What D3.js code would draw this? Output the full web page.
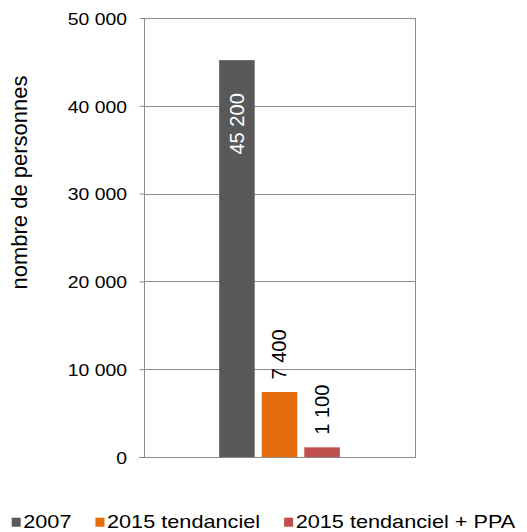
<!DOCTYPE html>
<html>
<head>
<meta charset="utf-8">
<script src="https://cdn.jsdelivr.net/npm/d3@7"></script>
<style>
  html, body { margin: 0; padding: 0; background: #fff; }
  svg { display: block; font-family: "Liberation Sans", Arial, sans-serif; }
</style>
</head>
<body>
<svg id="chart" width="527" height="532"></svg>
<script>
// Number of people, 2007 vs. 2015 projections
const categories = [""];
const seriesNames = ["2007", "2015 tendanciel", "2015 tendanciel + PPA"];
const seriesValues = [45200, 7400, 1100];
const seriesColors = ["#595959", "#E46C0A", "#C0504D"];
const yTicks = [0, 10000, 20000, 30000, 40000, 50000];
const yTitle = "nombre de personnes";

const W = 527, H = 532;
const plot = { left: 144, right: 415, top: 18, bottom: 457 };
const gridColor = "#8C8C8C";

// French thousands grouping: "45 200"
const fmt = v => d3.format(",")(v).replace(/,/g, " ");

const svg = d3.select("#chart");

const y = d3.scaleLinear().domain([0, 50000]).range([plot.bottom, plot.top]);
const x0 = d3.scaleBand().domain(categories).range([plot.left, plot.right])
  .paddingInner(0.3837).paddingOuter(0.3837);
const x1 = d3.scaleBand().domain(seriesNames).range([0, x0.bandwidth()])
  .paddingInner(0.165).paddingOuter(0);

// gridlines
svg.append("g").selectAll("line").data(yTicks.filter(t => t > 0)).join("line")
  .attr("x1", plot.left).attr("x2", plot.right)
  .attr("y1", d => Math.round(y(d)) + 0.5).attr("y2", d => Math.round(y(d)) + 0.5)
  .attr("stroke", gridColor).attr("stroke-width", 1);

// right border of plot
svg.append("line")
  .attr("x1", plot.right + 0.5).attr("x2", plot.right + 0.5)
  .attr("y1", plot.top).attr("y2", plot.bottom)
  .attr("stroke", gridColor);

// bars
const data = seriesNames.map((s, i) => ({ series: s, value: seriesValues[i], color: seriesColors[i] }));
const gBars = svg.append("g").attr("transform", `translate(${x0(categories[0])},0)`);
gBars.selectAll("rect").data(data).join("rect")
  .attr("x", d => x1(d.series))
  .attr("width", x1.bandwidth())
  .attr("y", d => y(d.value))
  .attr("height", d => y(0) - y(d.value))
  .attr("fill", d => d.color);

// value labels, rotated
const labelFont = 19.5, labelStretch = 1.03;
gBars.selectAll("text.val").data(data).join("text")
  .attr("class", "val")
  .attr("font-size", labelFont)
  .attr("fill", (d, i) => i === 0 ? "#FFFFFF" : "#000000")
  .attr("text-anchor", (d, i) => i === 0 ? "end" : "start")
  .attr("transform", (d, i) => {
    const cx = x1(d.series) + x1.bandwidth() / 2 + 6.8;
    const yy = i === 0 ? y(d.value) + 33 : y(d.value) - 12.5;
    return `translate(${cx},${yy}) rotate(-90) scale(${labelStretch},1)`;
  })
  .text(d => fmt(d.value));

// y axis
const yAxis = d3.axisLeft(y).tickValues(yTicks).tickSize(5).tickPadding(12)
  .tickFormat(fmt);
const gy = svg.append("g").attr("transform", `translate(${plot.left + 0.5},0)`).call(yAxis);
gy.select(".domain").attr("stroke", gridColor).attr("d", `M0,${plot.top}V${plot.bottom}`);
gy.selectAll(".tick line").attr("stroke", gridColor);
gy.selectAll(".tick text")
  .attr("font-family", "Liberation Sans, Arial, sans-serif")
  .attr("font-size", 17).attr("fill", "#000")
  .attr("dy", null).attr("x", null)
  .attr("transform", `translate(-17.5,6.2) scale(1.14,1)`);

// x axis baseline (extends to the tick length on the left)
svg.append("line")
  .attr("x1", plot.left - 5).attr("x2", plot.right + 1)
  .attr("y1", plot.bottom + 0.5).attr("y2", plot.bottom + 0.5)
  .attr("stroke", gridColor);

// y axis title
svg.append("text")
  .attr("font-size", 22)
  .attr("text-anchor", "middle")
  .attr("transform", `translate(26.5,182.5) rotate(-90)`)
  .attr("fill", "#000")
  .text(yTitle);

// legend, centered at the bottom
const legFont = 17.5, legStretch = 1.24, sw = 9, textGap = 2.5, itemGap = 24;
const legend = svg.append("g");
const items = legend.selectAll("g").data(data).join("g");
items.append("rect").attr("width", sw).attr("height", sw)
  .attr("y", 517.7).attr("fill", d => d.color);
items.append("text")
  .attr("font-size", legFont).attr("fill", "#000")
  .attr("transform", `translate(${sw + textGap},527.5) scale(${legStretch},1)`)
  .text(d => d.series);
const widths = [];
items.each(function () {
  const t = d3.select(this).select("text").node();
  widths.push(sw + textGap + t.getComputedTextLength() * legStretch);
});
const total = d3.sum(widths) + itemGap * (widths.length - 1);
let cursor = (W - total) / 2;
items.attr("transform", (d, i) => {
  const tx = cursor;
  cursor += widths[i] + itemGap;
  return `translate(${tx},0)`;
});
</script>
</body>
</html>
